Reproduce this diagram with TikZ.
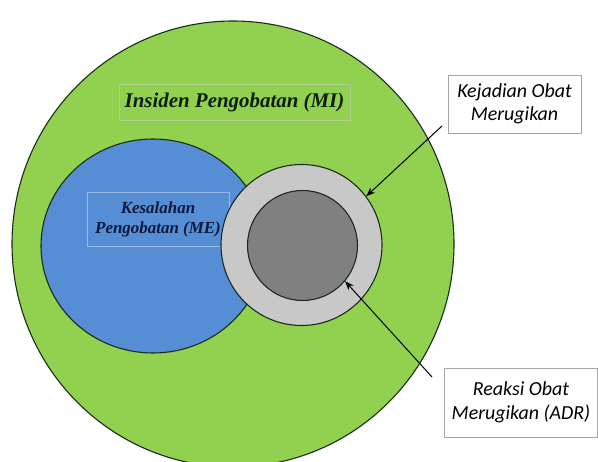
\documentclass[tikz,border=0pt]{standalone}
\usepackage{fontspec}
\setmainfont{Liberation Serif}
\newfontfamily\calib{Carlito}
\usetikzlibrary{shapes.geometric,arrows.meta}
\definecolor{mgreen}{RGB}{146,208,80}
\definecolor{mblue}{RGB}{85,142,213}
\definecolor{lgray}{RGB}{200,200,200}
\definecolor{dgray}{RGB}{128,128,128}
\definecolor{edge}{RGB}{25,45,25}
\definecolor{navy}{RGB}{12,24,60}
\definecolor{migreen}{RGB}{12,30,10}
\tikzset{
  region/.style={draw=edge, line width=1.1pt, inner sep=0pt},
  lblbox/.style={line width=0.7pt, inner sep=0pt, align=center, font=\bfseries\itshape},
  callout/.style={draw=gray!70, fill=white, line width=0.7pt, inner sep=0pt, align=center, font=\calib\itshape\fontsize{20}{23}\selectfont},
  pointer/.style={line width=1pt, -{Stealth[length=9pt,width=7pt]}}
}
\begin{document}
\begin{tikzpicture}[x=1bp,y=-1bp]
\useasboundingbox (0,0) rectangle (598,462);
\clip (0,0) rectangle (598,462);
\fill[white] (0,0) rectangle (598,462);
\node[region, ellipse, fill=mgreen, minimum width=442bp, minimum height=446bp] (mi) at (233,244) {};
\node[lblbox, draw=mgreen!60!white!80!gray, minimum width=231bp, minimum height=36bp, text=migreen, font=\bfseries\itshape\fontsize{21}{24}\selectfont] (milbl) at (234.5,102) {Insiden Pengobatan (MI)};
\node[region, ellipse, fill=mblue, minimum width=224bp, minimum height=214bp] (me) at (153,246) {};
\node[lblbox, draw=mblue!60!white, minimum width=142bp, minimum height=54bp, text=navy, font=\bfseries\itshape\fontsize{17}{20}\selectfont] (melbl) at (158,219) {Kesalahan\\Pengobatan (ME)};
\node[region, circle, fill=lgray, minimum size=161bp] (gray) at (301.5,245) {};
\node[region, circle, fill=dgray, minimum size=110bp] (dark) at (302.5,245.5) {};
\node[callout, minimum width=133bp, minimum height=58bp] (koe) at (514.5,104) {Kejadian Obat\\Merugikan};
\node[callout, minimum width=153bp, minimum height=69bp, font=\calib\itshape\fontsize{20}{24}\selectfont] (adr) at (521,402.5) {Reaksi Obat\\Merugikan (ADR)};
\coordinate (s1) at (442,126);
\coordinate (s2) at (432,377);
\draw[pointer] (s1) -- (gray.37);
\draw[pointer] (s2) -- (dark.-40);
\end{tikzpicture}
\end{document}
